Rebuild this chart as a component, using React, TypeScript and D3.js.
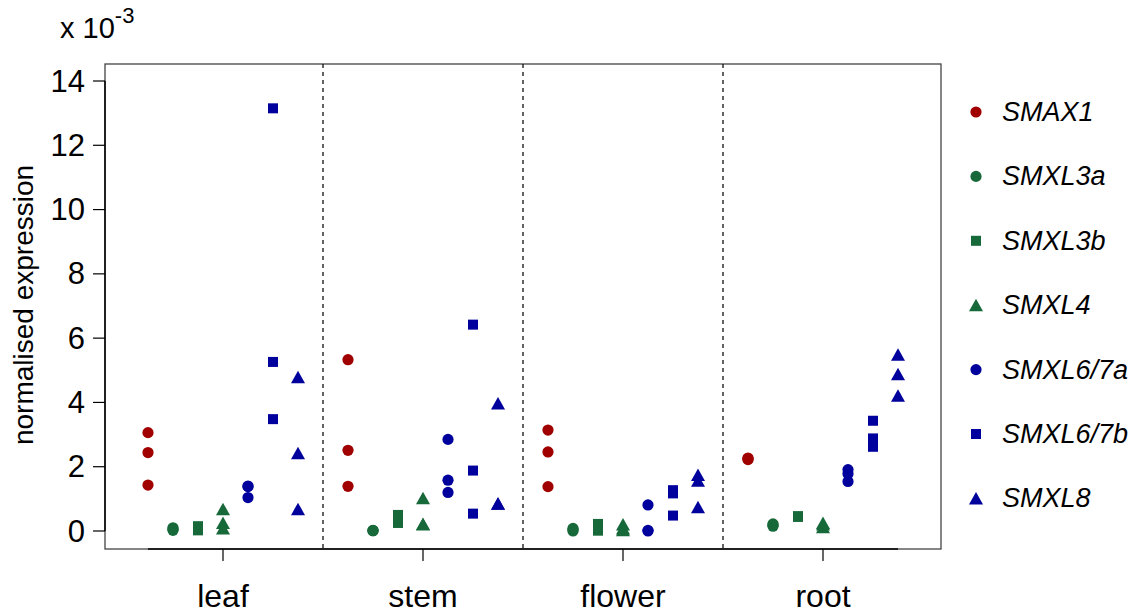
import React from "react";
import * as d3 from "d3";

// Expression values (x 10^-3), one array per gene, replicates grouped by tissue
const TISSUES = ["leaf", "stem", "flower", "root"];
const GENES = ["SMAX1", "SMXL3a", "SMXL3b", "SMXL4", "SMXL6/7a", "SMXL6/7b", "SMXL8"];
const Y_TICKS = [0, 2, 4, 6, 8, 10, 12, 14];

const SMAX1_VALUES = [[3.06, 2.44, 1.43], [5.33, 2.51, 1.39], [3.14, 2.46, 1.38], [2.22, 2.25, 2.27]];
const SMXL3A_VALUES = [[0.02, 0.06, 0.1], [0.01, 0.02, 0.01], [0.0, 0.05, 0.08], [0.15, 0.19, 0.22]];
const SMXL3B_VALUES = [[0.02, 0.08, 0.15], [0.25, 0.38, 0.5], [0.01, 0.1, 0.22], [0.44, 0.45, 0.46]];
const SMXL4_VALUES = [[0.68, 0.25, 0.08], [1.02, 0.22, 0.2], [0.2, 0.08, 0.02], [0.25, 0.12, 0.2]];
const SMXL67A_VALUES = [[1.4, 1.04, 1.38], [2.85, 1.58, 1.2], [0.81, 0.0, 0.02], [1.91, 1.78, 1.54]];
const SMXL67B_VALUES = [[13.15, 5.26, 3.48], [6.42, 1.88, 0.54], [1.27, 1.17, 0.48], [3.43, 2.88, 2.62]];
const SMXL8_VALUES = [[4.78, 2.42, 0.68], [3.97, 0.85, 0.85], [1.74, 1.56, 0.74], [5.48, 4.88, 4.21]];

const GENE_VALUES = [SMAX1_VALUES, SMXL3A_VALUES, SMXL3B_VALUES, SMXL4_VALUES, SMXL67A_VALUES, SMXL67B_VALUES, SMXL8_VALUES];
const GENE_COLORS = ["#a00000", "#17693a", "#17693a", "#17693a", "#00009c", "#00009c", "#00009c"];
const GENE_SHAPES = ["circle", "circle", "square", "triangle", "circle", "square", "triangle"];

const W = 1139;
const H = 613;
const BOX = { left: 105, right: 941, top: 64, bottom: 549 };
const FONT = "'Liberation Sans', Arial, Helvetica, sans-serif";

function Marker({ shape, x, y, color }: { shape: string; x: number; y: number; color: string }) {
  if (shape === "circle") return <circle cx={x} cy={y} r={5.6} fill={color} />;
  if (shape === "square") return <rect x={x - 5} y={y - 5} width={10} height={10} fill={color} />;
  const tri = d3.line()([[x - 7, y + 6], [x + 7, y + 6], [x, y - 6.5]]) + "Z";
  return <path d={tri} fill={color} />;
}

export default function App() {
  const tissueScale = d3.scaleBand<string>().domain(TISSUES).range([123, 923]).padding(0);
  const geneScale = d3.scalePoint<string>().domain(GENES).range([-75, 75]);
  const y = d3.scaleLinear().domain([0, 14]).range([531, 81]);

  const center = (t: string) => (tissueScale(t) as number) + tissueScale.bandwidth() / 2;
  const firstX = center(TISSUES[0]) + (geneScale(GENES[0]) as number);
  const lastX = center(TISSUES[TISSUES.length - 1]) + (geneScale(GENES[GENES.length - 1]) as number);

  const points: { key: string; x: number; y: number; shape: string; color: string }[] = [];
  GENES.forEach((g, gi) => {
    TISSUES.forEach((t, ti) => {
      GENE_VALUES[gi][ti].forEach((v, ri) => {
        points.push({
          key: `${g}-${t}-${ri}`,
          x: center(t) + (geneScale(g) as number),
          y: y(v),
          shape: GENE_SHAPES[gi],
          color: GENE_COLORS[gi],
        });
      });
    });
  });

  const dividers = TISSUES.slice(1).map((t) => tissueScale(t) as number);

  return (
    <svg width={W} height={H} style={{ position: "absolute", left: 0, top: 0, background: "#fff" }} fontFamily={FONT}>
      {/* plot frame */}
      <rect x={BOX.left} y={BOX.top} width={BOX.right - BOX.left} height={BOX.bottom - BOX.top} fill="none" stroke="#444" strokeWidth={1.3} />
      {/* tissue separators */}
      {dividers.map((d) => (
        <line key={d} x1={d} x2={d} y1={BOX.top} y2={BOX.bottom} stroke="#111" strokeWidth={1.3} strokeDasharray="4,4" />
      ))}

      {/* y axis */}
      <line x1={BOX.left} x2={BOX.left} y1={y(0)} y2={y(14)} stroke="#000" strokeWidth={1.5} />
      {Y_TICKS.map((t) => (
        <g key={t}>
          <line x1={BOX.left - 12} x2={BOX.left} y1={y(t)} y2={y(t)} stroke="#000" strokeWidth={1.2} />
          <text x={85} y={y(t)} textAnchor="end" dominantBaseline="central" fontSize={31} fill="#000">
            {t}
          </text>
        </g>
      ))}
      <text x={60} y={38} fontSize={29} fill="#000">
        x 10
        <tspan fontSize={22} dy={-15}>-3</tspan>
      </text>
      <text transform={`translate(33, 305) rotate(-90)`} textAnchor="middle" fontSize={28} fill="#000">
        normalised expression
      </text>

      {/* x axis */}
      <line x1={firstX} x2={lastX} y1={BOX.bottom} y2={BOX.bottom} stroke="#000" strokeWidth={1.5} />
      {TISSUES.map((t) => (
        <g key={t}>
          <line x1={center(t)} x2={center(t)} y1={BOX.bottom} y2={BOX.bottom + 12} stroke="#000" strokeWidth={1.2} />
          <text x={center(t)} y={607} textAnchor="middle" fontSize={32} fill="#000">
            {t}
          </text>
        </g>
      ))}

      {/* data points */}
      {points.map((p) => (
        <Marker key={p.key} shape={p.shape} x={p.x} y={p.y} color={p.color} />
      ))}

      {/* legend */}
      {GENES.map((g, i) => {
        const ly = 112 + i * 64.4;
        return (
          <g key={g}>
            <Marker shape={GENE_SHAPES[i]} x={976} y={ly} color={GENE_COLORS[i]} />
            <text x={1002} y={ly} dominantBaseline="central" fontSize={27} fontStyle="italic" fill="#000">
              {g}
            </text>
          </g>
        );
      })}
    </svg>
  );
}
